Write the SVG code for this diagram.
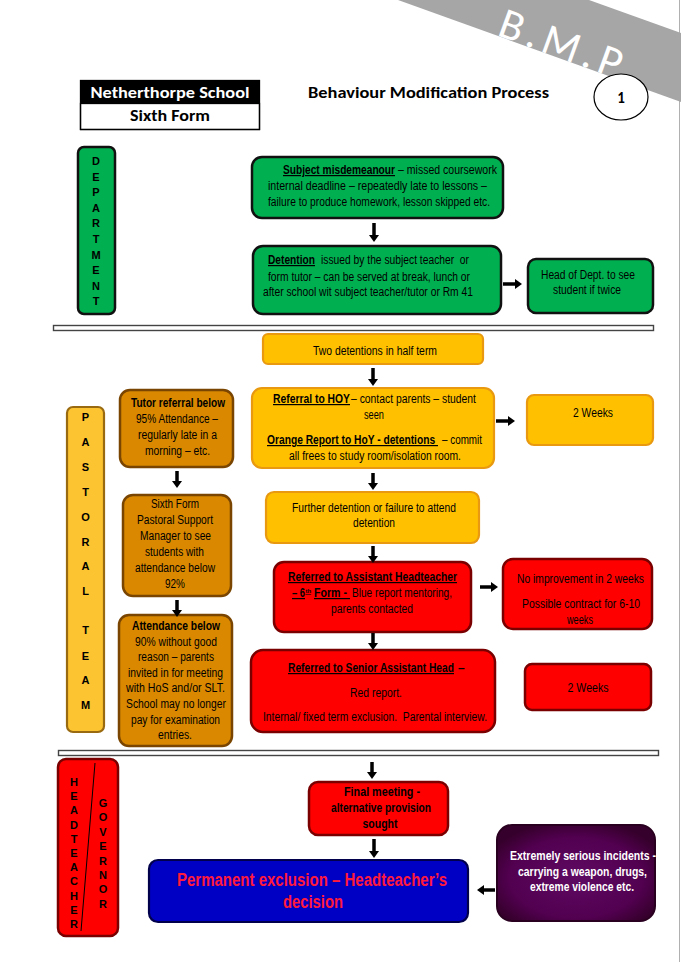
<svg xmlns="http://www.w3.org/2000/svg" width="681" height="962" viewBox="0 0 681 962">
<defs>
<style>
.t{font-family:'Liberation Sans Narrow','Arial Narrow','Liberation Sans',Arial,sans-serif;font-size:12px;fill:#000}
.b{font-weight:bold}
.u{text-decoration:underline}
.c{text-anchor:middle}
.hdr{font-family:Carlito,Calibri,'Liberation Sans',Arial,sans-serif;font-weight:bold;font-size:15px}
.lbl{font-family:'Liberation Sans Narrow','Arial Narrow','Liberation Sans',Arial,sans-serif;font-weight:bold;font-size:11px;text-anchor:middle;fill:#000}
.green{fill:#00b050;stroke:#111;stroke-width:2.5}
.gold{fill:#ffc000;stroke:#e8990f;stroke-width:2.2}
.brown{fill:#d98800;stroke:#7a4500;stroke-width:2.5}
.red{fill:#ff0000;stroke:#7a0000;stroke-width:2.5}
.arr{stroke:#000;stroke-width:3.5;fill:none;marker-end:url(#ah)}
</style>
<marker id="ah" markerUnits="userSpaceOnUse" markerWidth="7" markerHeight="10" viewBox="0 0 7 10" refX="0" refY="5" orient="auto">
<path d="M0,0 L7,5 L0,10 z" fill="#000"/>
</marker>
<radialGradient id="pg" cx="50%" cy="55%" r="60%">
<stop offset="0" stop-color="#5e0a63"/>
<stop offset="0.7" stop-color="#520050"/>
<stop offset="1" stop-color="#36002c"/>
</radialGradient>
</defs>
<rect width="681" height="962" fill="#fff"/>
<line x1="679.5" y1="0" x2="679.5" y2="962" stroke="#b0b0b0" stroke-width="1"/>

<g id="bmp-banner">
<polygon points="398,0 589,0 681,33 681,102" fill="#a6a6a6"/>
<text transform="translate(496,35) rotate(20)" x="0" y="0" font-family="Carlito,Calibri,'Liberation Sans',Arial,sans-serif" font-size="44" fill="#fff" textLength="128" lengthAdjust="spacing">B.M.P</text>
</g>

<g id="header">
<rect x="80.5" y="80.5" width="179" height="23" fill="#000"/>
<rect x="80.5" y="103.5" width="179" height="26" fill="#fff" stroke="#000" stroke-width="1.3"/>
<rect x="80.5" y="80.5" width="179" height="49" fill="none" stroke="#000" stroke-width="1.3"/>
<text class="hdr c" x="170" y="98" fill="#fff" textLength="159" lengthAdjust="spacingAndGlyphs">Netherthorpe School</text>
<text class="hdr c" x="170" y="121" fill="#000" textLength="80" lengthAdjust="spacingAndGlyphs">Sixth Form</text>
<text class="hdr c" x="428.5" y="98" fill="#000" textLength="241" lengthAdjust="spacingAndGlyphs">Behaviour Modification Process</text>
</g>

<g id="page-number">
<ellipse cx="621" cy="97" rx="27" ry="23" fill="#fff" stroke="#000" stroke-width="1.2"/>
<text class="hdr c" x="621" y="103" fill="#000">1</text>
</g>

<g id="separators">
<rect x="53.5" y="325.5" width="600" height="5" fill="#fff" stroke="#444" stroke-width="1.4"/>
<rect x="58.5" y="750.5" width="600" height="5" fill="#fff" stroke="#444" stroke-width="1.4"/>
</g>

<g id="label-department">
<rect x="78" y="147" width="37" height="167" rx="6" class="green"/>
<text class="lbl"><tspan x="96" y="165">D</tspan><tspan x="96" y="180.6">E</tspan><tspan x="96" y="196.2">P</tspan><tspan x="96" y="211.8">A</tspan><tspan x="96" y="227.4">R</tspan><tspan x="96" y="243">T</tspan><tspan x="96" y="258.6">M</tspan><tspan x="96" y="274.2">E</tspan><tspan x="96" y="289.8">N</tspan><tspan x="96" y="305.4">T</tspan></text>
</g>

<g id="subject-misdemeanour">
<rect x="252" y="157" width="251" height="61" rx="10" class="green"/>
<text class="t b u" x="283" y="174" textLength="112" lengthAdjust="spacingAndGlyphs">Subject misdemeanour</text>
<text class="t" x="398" y="174" textLength="99" lengthAdjust="spacingAndGlyphs">– missed coursework</text>
<text class="t" x="268" y="190" textLength="219" lengthAdjust="spacingAndGlyphs">internal deadline – repeatedly late to lessons –</text>
<text class="t" x="268" y="206" textLength="222" lengthAdjust="spacingAndGlyphs">failure to produce homework, lesson skipped etc.</text>
</g>

<g id="detention">
<rect x="253" y="246" width="248" height="68" rx="10" class="green"/>
<text class="t b u" x="268" y="264" textLength="47" lengthAdjust="spacingAndGlyphs">Detention</text>
<text class="t" x="321" y="264" textLength="148" lengthAdjust="spacingAndGlyphs" xml:space="preserve">issued by the subject teacher  or</text>
<text class="t" x="268" y="281" textLength="202" lengthAdjust="spacingAndGlyphs">form tutor – can be served at break, lunch or</text>
<text class="t" x="263" y="296" textLength="210" lengthAdjust="spacingAndGlyphs">after school wit subject teacher/tutor or Rm 41</text>
</g>

<g id="head-of-dept">
<rect x="528" y="259" width="125" height="54" rx="8" class="green"/>
<text class="t c" x="588" y="279" textLength="94" lengthAdjust="spacingAndGlyphs">Head of Dept. to see</text>
<text class="t c" x="587" y="294" textLength="68" lengthAdjust="spacingAndGlyphs">student if twice</text>
</g>

<g id="label-pastoral">
<rect x="67" y="407" width="37" height="325" rx="6" fill="#fcc430" stroke="#9a6a10" stroke-width="2.2"/>
<text class="lbl"><tspan x="85.5" y="421">P</tspan><tspan x="85.5" y="446">A</tspan><tspan x="85.5" y="471">S</tspan><tspan x="85.5" y="496">T</tspan><tspan x="85.5" y="521">O</tspan><tspan x="85.5" y="546">R</tspan><tspan x="85.5" y="570">A</tspan><tspan x="85.5" y="595">L</tspan><tspan x="85.5" y="634">T</tspan><tspan x="85.5" y="660">E</tspan><tspan x="85.5" y="684">A</tspan><tspan x="85.5" y="709">M</tspan></text>
</g>

<g id="two-detentions">
<rect x="263" y="334" width="220" height="30" rx="5" class="gold"/>
<text class="t c" x="375" y="355" textLength="124" lengthAdjust="spacingAndGlyphs">Two detentions in half term</text>
</g>

<g id="tutor-referral">
<rect x="120" y="390" width="113" height="77" rx="10" class="brown"/>
<text class="t c b" x="178" y="407" textLength="94" lengthAdjust="spacingAndGlyphs">Tutor referral below</text>
<text class="t c" x="177" y="423" textLength="82" lengthAdjust="spacingAndGlyphs">95% Attendance –</text>
<text class="t c" x="177.5" y="439" textLength="79" lengthAdjust="spacingAndGlyphs">regularly late in a</text>
<text class="t c" x="177.5" y="455" textLength="65" lengthAdjust="spacingAndGlyphs">morning – etc.</text>
</g>

<g id="pastoral-support">
<rect x="123" y="495" width="108" height="101" rx="10" class="brown"/>
<text class="t c" x="175" y="508" textLength="48" lengthAdjust="spacingAndGlyphs">Sixth Form</text>
<text class="t c" x="175" y="524" textLength="76" lengthAdjust="spacingAndGlyphs">Pastoral Support</text>
<text class="t c" x="175.5" y="540" textLength="71" lengthAdjust="spacingAndGlyphs">Manager to see</text>
<text class="t c" x="174.5" y="556" textLength="59" lengthAdjust="spacingAndGlyphs">students with</text>
<text class="t c" x="175" y="572" textLength="80" lengthAdjust="spacingAndGlyphs">attendance below</text>
<text class="t c" x="175" y="588" textLength="20" lengthAdjust="spacingAndGlyphs">92%</text>
</g>

<g id="attendance-below-90">
<rect x="119" y="615" width="113" height="131" rx="10" class="brown"/>
<text class="t c b" x="176" y="630" textLength="88" lengthAdjust="spacingAndGlyphs">Attendance below</text>
<text class="t c" x="176" y="646" textLength="82" lengthAdjust="spacingAndGlyphs">90% without good</text>
<text class="t c" x="176" y="661" textLength="76" lengthAdjust="spacingAndGlyphs">reason – parents</text>
<text class="t c" x="175.5" y="677" textLength="95" lengthAdjust="spacingAndGlyphs">invited in for meeting</text>
<text class="t c" x="175.5" y="692" textLength="99" lengthAdjust="spacingAndGlyphs">with HoS and/or SLT.</text>
<text class="t c" x="176" y="708" textLength="100" lengthAdjust="spacingAndGlyphs">School may no longer</text>
<text class="t c" x="175.5" y="724" textLength="89" lengthAdjust="spacingAndGlyphs">pay for examination</text>
<text class="t c" x="175" y="739" textLength="34" lengthAdjust="spacingAndGlyphs">entries.</text>
</g>

<g id="referral-hoy">
<rect x="252" y="388" width="242" height="80" rx="10" class="gold"/>
<text class="t b u" x="273" y="403" textLength="77" lengthAdjust="spacingAndGlyphs">Referral to HOY</text>
<text class="t" x="351" y="403" textLength="125" lengthAdjust="spacingAndGlyphs">– contact parents – student</text>
<text class="t c" x="374" y="419" textLength="20" lengthAdjust="spacingAndGlyphs">seen</text>
<text class="t b u" x="267" y="444" textLength="171" lengthAdjust="spacingAndGlyphs" xml:space="preserve">Orange Report to HoY - detentions </text>
<text class="t" x="442" y="444" textLength="40" lengthAdjust="spacingAndGlyphs">– commit</text>
<text class="t" x="289" y="460" textLength="172" lengthAdjust="spacingAndGlyphs">all frees to study room/isolation room.</text>
</g>

<g id="two-weeks-1">
<rect x="527" y="395" width="126" height="50" rx="7" class="gold"/>
<text class="t c" x="593" y="417" textLength="40" lengthAdjust="spacingAndGlyphs">2 Weeks</text>
</g>

<g id="further-detention">
<rect x="266" y="492" width="213" height="51" rx="8" class="gold"/>
<text class="t" x="292" y="512" textLength="164" lengthAdjust="spacingAndGlyphs">Further detention or failure to attend</text>
<text class="t c" x="374" y="527" textLength="42" lengthAdjust="spacingAndGlyphs">detention</text>
</g>

<g id="assistant-headteacher">
<rect x="274" y="562" width="197" height="70" rx="10" class="red"/>
<text class="t b u" x="288" y="581" textLength="169" lengthAdjust="spacingAndGlyphs">Referred to Assistant Headteacher</text>
<text class="t b u" x="292" y="597" textLength="13" lengthAdjust="spacingAndGlyphs">– 6</text>
<text class="t b u" x="305.5" y="593" style="font-size:6px">th</text>
<text class="t b u" x="314" y="597" textLength="36" lengthAdjust="spacingAndGlyphs" xml:space="preserve">Form - </text>
<text class="t" x="352" y="597" textLength="100" lengthAdjust="spacingAndGlyphs">Blue report mentoring,</text>
<text class="t c" x="372" y="613" textLength="82" lengthAdjust="spacingAndGlyphs">parents contacted</text>
</g>

<g id="no-improvement">
<rect x="503" y="559" width="149" height="70" rx="10" class="red"/>
<text class="t" x="517" y="583" textLength="127" lengthAdjust="spacingAndGlyphs">No improvement in 2 weeks</text>
<text class="t" x="522" y="608" textLength="118" lengthAdjust="spacingAndGlyphs">Possible contract for 6-10</text>
<text class="t c" x="580" y="624" textLength="26" lengthAdjust="spacingAndGlyphs">weeks</text>
</g>

<g id="senior-assistant-head">
<rect x="251" y="650" width="244" height="82" rx="12" class="red"/>
<text class="t b u" x="288" y="672" textLength="166" lengthAdjust="spacingAndGlyphs">Referred to Senior Assistant Head</text>
<text class="t b" x="458" y="672">–</text>
<text class="t c" x="376" y="697" textLength="52" lengthAdjust="spacingAndGlyphs">Red report.</text>
<text class="t" x="263" y="721" textLength="224" lengthAdjust="spacingAndGlyphs" xml:space="preserve">Internal/ fixed term exclusion.  Parental interview.</text>
</g>

<g id="two-weeks-2">
<rect x="525" y="664" width="126" height="46" rx="7" class="red"/>
<text class="t c" x="588" y="692" textLength="41" lengthAdjust="spacingAndGlyphs">2 Weeks</text>
</g>

<g id="label-headteacher-governor">
<rect x="58" y="759" width="60" height="177" rx="8" class="red"/>
<line x1="95" y1="763" x2="81" y2="931" stroke="#000" stroke-width="1"/>
<text class="lbl"><tspan x="74" y="786">H</tspan><tspan x="74" y="800.2">E</tspan><tspan x="74" y="814.4">A</tspan><tspan x="74" y="828.6">D</tspan><tspan x="74" y="842.8">T</tspan><tspan x="74" y="857">E</tspan><tspan x="74" y="871.2">A</tspan><tspan x="74" y="885.4">C</tspan><tspan x="74" y="899.6">H</tspan><tspan x="74" y="913.8">E</tspan><tspan x="74" y="928">R</tspan></text>
<text class="lbl"><tspan x="103" y="807">G</tspan><tspan x="103" y="821.4">O</tspan><tspan x="103" y="835.8">V</tspan><tspan x="103" y="850.2">E</tspan><tspan x="103" y="864.6">R</tspan><tspan x="103" y="879">N</tspan><tspan x="103" y="893.4">O</tspan><tspan x="103" y="907.8">R</tspan></text>
</g>

<g id="final-meeting">
<rect x="309" y="782" width="139" height="53" rx="9" class="red"/>
<text class="t c b" x="382" y="796" textLength="76" lengthAdjust="spacingAndGlyphs">Final meeting -</text>
<text class="t c b" x="381" y="812" textLength="100" lengthAdjust="spacingAndGlyphs">alternative provision</text>
<text class="t c b" x="380" y="828" textLength="35" lengthAdjust="spacingAndGlyphs">sought</text>
</g>

<g id="permanent-exclusion">
<rect x="149" y="860" width="319" height="62" rx="9" fill="#0000c4" stroke="#00004d" stroke-width="2.2"/>
<text class="t b" x="177" y="886" style="font-size:18px;fill:#ff1a3c" textLength="270" lengthAdjust="spacingAndGlyphs">Permanent exclusion – Headteacher’s</text>
<text class="t b c" x="313" y="908" style="font-size:18px;fill:#ff1a3c" textLength="60" lengthAdjust="spacingAndGlyphs">decision</text>
</g>

<g id="extremely-serious">
<rect x="497" y="825" width="158" height="96" rx="15" fill="url(#pg)" stroke="#2a0020" stroke-width="2"/>
<text class="t b" x="510" y="860" style="fill:#fff" textLength="146" lengthAdjust="spacingAndGlyphs">Extremely serious incidents -</text>
<text class="t b" x="518" y="876" style="fill:#fff" textLength="129" lengthAdjust="spacingAndGlyphs">carrying a weapon, drugs,</text>
<text class="t b" x="530" y="891" style="fill:#fff" textLength="104" lengthAdjust="spacingAndGlyphs">extreme violence etc.</text>
</g>

<g id="connectors">
<line class="arr" x1="374" y1="223" x2="374" y2="235"/>
<line class="arr" x1="503" y1="284" x2="515" y2="284"/>
<line class="arr" x1="373" y1="368" x2="373" y2="379"/>
<line class="arr" x1="496" y1="421" x2="508" y2="421"/>
<line class="arr" x1="177" y1="471" x2="177" y2="481"/>
<line class="arr" x1="373" y1="473" x2="373" y2="483"/>
<line class="arr" x1="373" y1="546" x2="373" y2="556"/>
<line class="arr" x1="480" y1="587" x2="491" y2="587"/>
<line class="arr" x1="177" y1="600" x2="177" y2="610"/>
<line class="arr" x1="373" y1="633" x2="373" y2="643"/>
<line class="arr" x1="372" y1="762" x2="372" y2="772"/>
<line class="arr" x1="374" y1="839" x2="374" y2="851"/>
<line class="arr" x1="495" y1="890" x2="484" y2="890"/>
</g>
</svg>
